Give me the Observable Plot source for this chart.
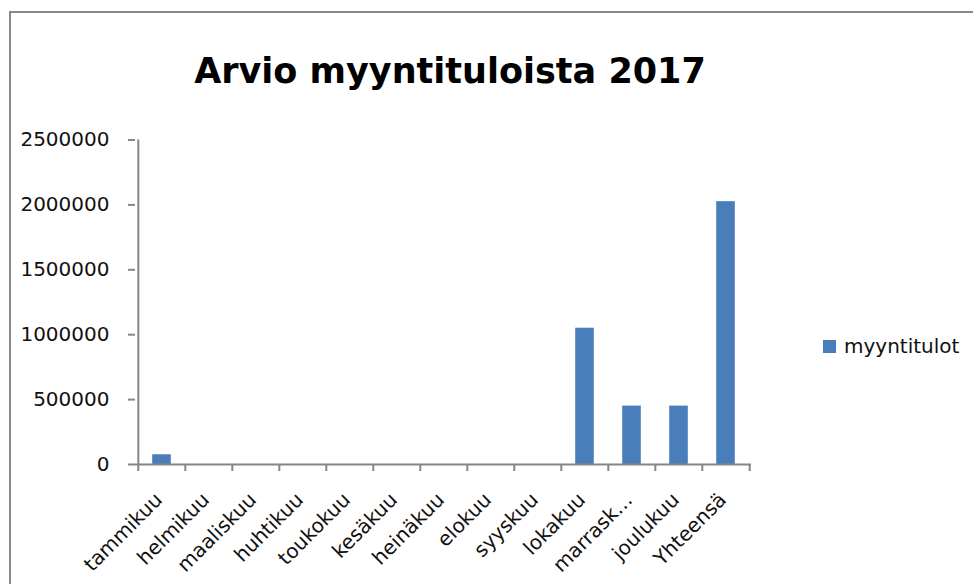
<!DOCTYPE html>
<html><head><meta charset="utf-8">
<script src="https://cdn.jsdelivr.net/npm/d3@7"></script>
<script src="https://cdn.jsdelivr.net/npm/@observablehq/plot@0.6"></script>
<style>
body{margin:0;background:#fff;font-family:"DejaVu Sans",sans-serif;}
#wrap{position:relative;width:973px;height:584px;overflow:hidden;background:#fff;}
#border{position:absolute;left:9px;top:11px;width:1000px;height:700px;border-left:2px solid #888;border-top:2px solid #888;}
#title{position:absolute;left:0;top:54px;width:900px;text-align:center;font-size:35px;line-height:35px;font-weight:bold;color:#000;}
#chart{position:absolute;left:0;top:120px;}
#legend{position:absolute;left:823px;top:334px;display:flex;align-items:center;font-size:20px;color:#111;}
#legend .sw{width:13px;height:13px;margin-right:8px;}
</style>
</head><body>
<div id="wrap">
  <div id="border"></div>
  <div id="title">Arvio myyntituloista 2017</div>
  <div id="chart"></div>
  <div id="legend"><span class="sw"></span><span id="legtext"></span></div>
</div>
<script>
const categories = ["tammikuu","helmikuu","maaliskuu","huhtikuu","toukokuu","kesäkuu","heinäkuu","elokuu","syyskuu","lokakuu","marrask…","joulukuu","Yhteensä"];
const values = [75000,0,0,0,0,0,0,0,0,1050000,450000,450000,2025000];
const yTicks = [0,500000,1000000,1500000,2000000,2500000];
const seriesName = "myyntitulot";

const data = categories.map((c,i)=>({month:c, value:values[i]}));
const W = 973, H = 464, ml = 135, mr = 222, mt = 19.5, mb = 120;
const bw = (W - ml - mr) / categories.length;
const barW = 19;
const inset = (bw - barW) / 2;
const axisColor = "#868686";
const blue = "#4a7ebb";

document.getElementById("legtext").textContent = seriesName;
document.querySelector("#legend .sw").style.background = blue;

const chart = Plot.plot({
  width: W, height: H,
  marginLeft: ml, marginRight: mr, marginTop: mt, marginBottom: mb,
  style: {fontFamily: "DejaVu Sans", fontSize: "20px", background: "transparent", color: "#111"},
  x: {domain: categories, padding: 0, label: null},
  y: {domain: [0, 2500000], label: null},
  marks: [
    Plot.barY(data, {x: "month", y: "value", fill: blue, insetLeft: inset, insetRight: inset}),
    Plot.ruleY([0], {stroke: axisColor, strokeWidth: 2}),
    Plot.ruleX([categories[0]], {x: d => d, dx: -bw/2, stroke: axisColor, strokeWidth: 2}),
    Plot.ruleX(categories, {x: d => d, dx: -bw/2, y1: 0, y2: 0, insetBottom: -7, stroke: axisColor, strokeWidth: 2}),
    Plot.ruleX([categories[categories.length-1]], {x: d => d, dx: bw/2, y1: 0, y2: 0, insetBottom: -7, stroke: axisColor, strokeWidth: 2}),
    Plot.axisY({ticks: yTicks, tickSize: 7, tickPadding: 19, tickFormat: d3.format("d"), stroke: axisColor, fill: "#111", strokeWidth: 2, label: null}),
    Plot.axisX({tickRotate: -45, tickSize: 0, tickPadding: 32, dx: -3, fill: "#111", label: null})
  ]
});
document.getElementById("chart").appendChild(chart);
</script>
</body></html>
